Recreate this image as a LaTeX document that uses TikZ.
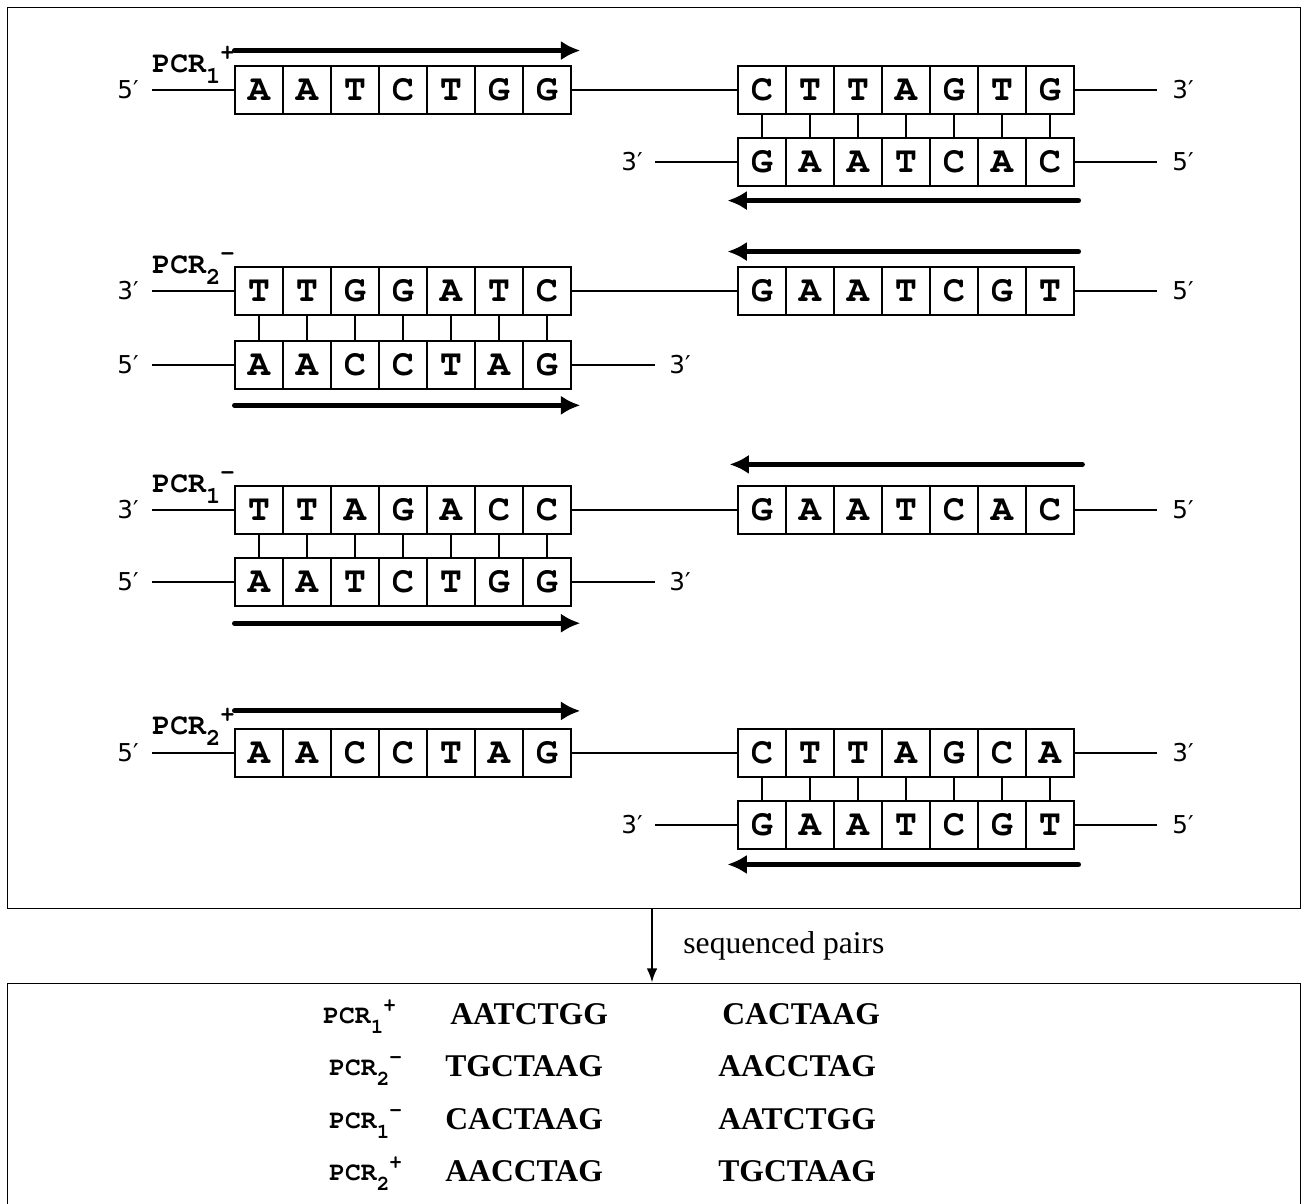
\documentclass[tikz,border=0pt]{standalone}
\usepackage[T1]{fontenc}
\usepackage{graphicx}
\usepackage{fontspec}
\setmainfont{Liberation Serif}
\newfontfamily\endfont{DejaVu Sans}
\usetikzlibrary{arrows.meta}

% bold Courier for bases and primer names
\newcommand{\courierbf}[1]{\fontencoding{T1}\fontfamily{pcr}\fontseries{b}\fontsize{#1}{#1}\selectfont}
% primer name with lowered index and raised sign
\newcommand{\pcr}[2]{PCR\raisebox{-0.4em}{\scalebox{0.8}{#1}}\raisebox{0.42em}{\scalebox{0.8}{#2}}}

% one strand of seven bases, centre of first base at (#2, #3)
\newcommand{\strandrow}[4]{%
	\foreach \b [count = \i] in {#4}
		\node [base] (#1\i) at ({#2 + 48 * (\i - 1)}, #3) {\b};
}

\begin{document}
\begin{tikzpicture}[x = 0.02cm, y = -0.02cm,
	base/.style = {draw, line width = 0.6pt, minimum size = 0.96cm, inner sep = 0pt, font = \courierbf{21}},
	endlbl/.style = {inner sep = 0pt, font = \endfont\fontsize{14}{14}\selectfont},
	pcrlbl/.style = {inner sep = 0pt, anchor = base west, font = \courierbf{17}},
	tablbl/.style = {inner sep = 0pt, anchor = base west, font = \courierbf{15}},
	seq/.style = {inner sep = 0pt, anchor = base west, font = \bfseries\fontsize{18}{18}\selectfont},
	strand/.style = {line width = 1.2pt},
	pair/.style = {line width = 0.6pt},
	primer/.style = {line width = 2.8pt, line cap = round, -{Latex[length = 11pt, width = 11pt]}},
	frame/.style = {draw, line width = 0.6pt, inner sep = 0pt}]

	\useasboundingbox (0, 0) rectangle (1306, 1204);

	\node [frame, minimum width = 25.88cm, minimum height = 18.04cm] (top) at (654, 458) {};
	\node [frame, minimum width = 25.88cm, minimum height = 4.6cm] (bottom) at (654, 1098) {};

	\strandrow{r1l}{259}{90}{A, A, T, C, T, G, G}
	\strandrow{r1r}{762}{90}{C, T, T, A, G, T, G}
	\strandrow{r1c}{762}{162}{G, A, A, T, C, A, C}

	\strandrow{r2l}{259}{291}{T, T, G, G, A, T, C}
	\strandrow{r2r}{762}{291}{G, A, A, T, C, G, T}
	\strandrow{r2c}{259}{365}{A, A, C, C, T, A, G}

	\strandrow{r3l}{259}{510}{T, T, A, G, A, C, C}
	\strandrow{r3r}{762}{510}{G, A, A, T, C, A, C}
	\strandrow{r3c}{259}{582}{A, A, T, C, T, G, G}

	\strandrow{r4l}{259}{753}{A, A, C, C, T, A, G}
	\strandrow{r4r}{762}{753}{C, T, T, A, G, C, A}
	\strandrow{r4c}{762}{825}{G, A, A, T, C, G, T}

	% strand ends
	\foreach \n/\x/\y/\t/\lx in {
			e1a/152/90/5′/128, e1b/1157/90/3′/1183, e1c/655/162/3′/632, e1d/1157/162/5′/1183,
			e2a/152/291/3′/128, e2b/1157/291/5′/1183, e2c/152/365/5′/128, e2d/655/365/3′/680,
			e3a/152/510/3′/128, e3b/1157/510/5′/1183, e3c/152/582/5′/128, e3d/655/582/3′/680,
			e4a/152/753/5′/128, e4b/1157/753/3′/1183, e4c/655/825/3′/632, e4d/1157/825/5′/1183} {
		\coordinate (\n) at (\x, \y);
		\node [endlbl] (\n-lbl) at (\lx, \y) {\t};
	}

	\draw [strand] (e1a) -- (r1l1.west) (r1l7.east) -- (r1r1.west) (r1r7.east) -- (e1b);
	\draw [strand] (e1c) -- (r1c1.west) (r1c7.east) -- (e1d);
	\draw [strand] (e2a) -- (r2l1.west) (r2l7.east) -- (r2r1.west) (r2r7.east) -- (e2b);
	\draw [strand] (e2c) -- (r2c1.west) (r2c7.east) -- (e2d);
	\draw [strand] (e3a) -- (r3l1.west) (r3l7.east) -- (r3r1.west) (r3r7.east) -- (e3b);
	\draw [strand] (e3c) -- (r3c1.west) (r3c7.east) -- (e3d);
	\draw [strand] (e4a) -- (r4l1.west) (r4l7.east) -- (r4r1.west) (r4r7.east) -- (e4b);
	\draw [strand] (e4c) -- (r4c1.west) (r4c7.east) -- (e4d);

	% base pairs
	\foreach \i in {1, ..., 7} {
		\draw [pair] (r1r\i.south) -- (r1c\i.north);
		\draw [pair] (r2l\i.south) -- (r2c\i.north);
		\draw [pair] (r3l\i.south) -- (r3c\i.north);
		\draw [pair] (r4r\i.south) -- (r4c\i.north);
	}

	% primers
	\draw [primer] ([yshift = 8.5pt] r1l1.north west) -- ([xshift = 5pt, yshift = 8.5pt] r1l7.north east);
	\draw [primer] ([xshift = 2.3pt, yshift = -8pt] r1c7.south east) -- ([xshift = -5.7pt, yshift = -8pt] r1c1.south west);
	\draw [primer] ([xshift = 2.3pt, yshift = 8.5pt] r2r7.north east) -- ([xshift = -5.7pt, yshift = 8.5pt] r2r1.north west);
	\draw [primer] ([yshift = -9pt] r2c1.south west) -- ([xshift = 5pt, yshift = -9pt] r2c7.south east);
	\draw [primer] ([xshift = 4.5pt, yshift = 12pt] r3r7.north east) -- ([xshift = -4.5pt, yshift = 12pt] r3r1.north west);
	\draw [primer] ([yshift = -9.5pt] r3c1.south west) -- ([xshift = 5pt, yshift = -9.5pt] r3c7.south east);
	\draw [primer] ([yshift = 10pt] r4l1.north west) -- ([xshift = 5pt, yshift = 10pt] r4l7.north east);
	\draw [primer] ([xshift = 2.3pt, yshift = -8.5pt] r4c7.south east) -- ([xshift = -5.7pt, yshift = -8.5pt] r4c1.south west);

	\node [pcrlbl] (p1) at (152, 72) {\pcr{1}{+}};
	\node [pcrlbl] (p2) at (152, 273) {\pcr{2}{-}};
	\node [pcrlbl] (p3) at (152, 492) {\pcr{1}{-}};
	\node [pcrlbl] (p4) at (152, 734) {\pcr{2}{+}};

	\draw [line width = 1.1pt, -{Latex[length = 8pt, width = 6pt]}] (top.south -| 652, 0) -- (bottom.north -| 652, 0)
		node [midway, right = 14pt, font = \fontsize{18}{18}\selectfont] (note) {sequenced pairs};

	% sequenced pairs
	\node [tablbl] (t1) at (323, 1023) {\pcr{1}{+}};
	\node [seq] (t1a) at (450, 1024) {AATCTGG};
	\node [seq] (t1b) at (722, 1024) {CACTAAG};
	\node [tablbl] (t2) at (329, 1075) {\pcr{2}{-}};
	\node [seq] (t2a) at (445, 1076) {TGCTAAG};
	\node [seq] (t2b) at (718, 1076) {AACCTAG};
	\node [tablbl] (t3) at (329, 1128) {\pcr{1}{-}};
	\node [seq] (t3a) at (445, 1129) {CACTAAG};
	\node [seq] (t3b) at (718, 1129) {AATCTGG};
	\node [tablbl] (t4) at (329, 1180) {\pcr{2}{+}};
	\node [seq] (t4a) at (445, 1181) {AACCTAG};
	\node [seq] (t4b) at (718, 1181) {TGCTAAG};

\end{tikzpicture}
\end{document}
